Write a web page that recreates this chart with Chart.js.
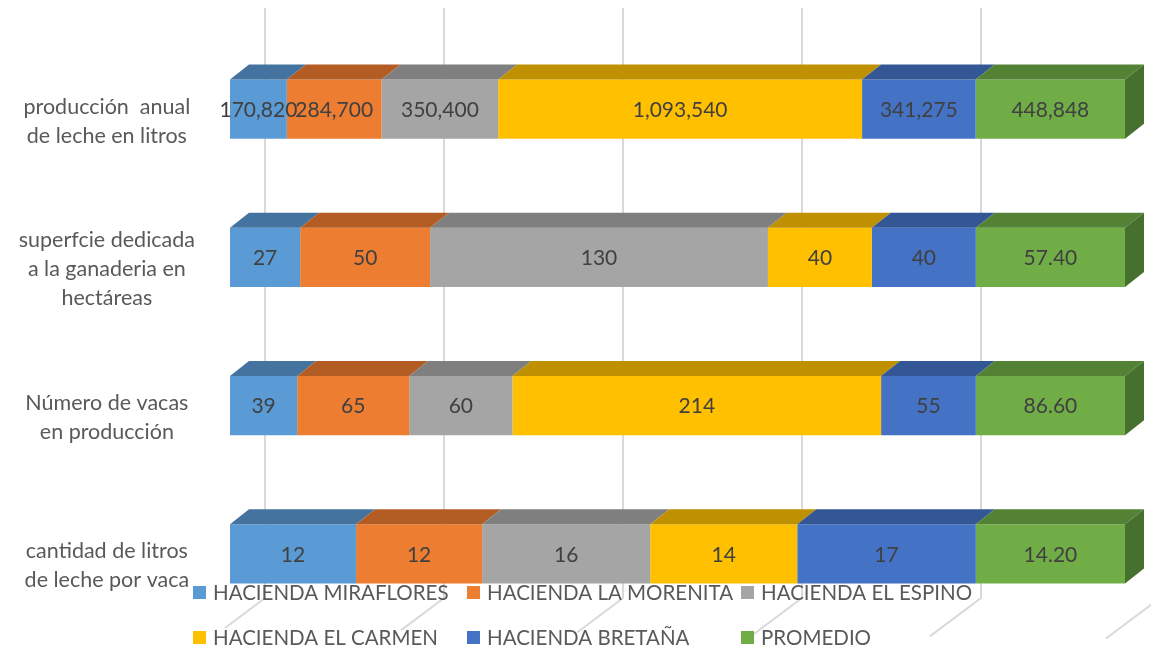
<!DOCTYPE html>
<html>
<head>
<meta charset="utf-8">
<script src="https://cdn.jsdelivr.net/npm/chart.js@4.4.0/dist/chart.umd.min.js"></script>
<style>
  html, body { margin: 0; background: #fff; }
  #wrap { width: 1151px; height: 650px; }
</style>
</head>
<body>
<div id="wrap"><canvas id="chart" width="1151" height="650"></canvas></div>
<script>
// categories (top to bottom) and series values
const categories = [
  ['producción  anual', 'de leche en litros'],
  ['superfcie dedicada', 'a la ganaderia en', 'hectáreas'],
  ['Número de vacas', 'en producción'],
  ['cantidad de litros', 'de leche por vaca']
];
const seriesNames = ['HACIENDA MIRAFLORES', 'HACIENDA LA MORENITA', 'HACIENDA EL ESPINO',
                     'HACIENDA EL CARMEN', 'HACIENDA BRETAÑA', 'PROMEDIO'];
const miraflores = [170820, 27, 39, 12];
const laMorenita = [284700, 50, 65, 12];
const elEspino   = [350400, 130, 60, 16];
const elCarmen   = [1093540, 40, 214, 14];
const bretana    = [341275, 40, 55, 17];
const promedio   = [448848, 57.4, 86.6, 14.2];
const gridTicks  = [0, 20, 40, 60, 80, 100];   // percent gridlines on the back wall

// Office palette: front faces / darker top faces
const FRONT = ['#5B9BD5', '#ED7D31', '#A5A5A5', '#FFC000', '#4472C4', '#70AD47'];
const TOP   = ['#44739F', '#B35D24', '#7F7F7F', '#BF9000', '#335694', '#548235'];
const SIDE  = '#46702D';
const FONT  = 'Lato, "Open Sans", sans-serif';

const allSeries = [miraflores, laMorenita, elEspino, elCarmen, bretana, promedio];
// 100% stacked: each category normalised to its row total
const totals = categories.map((_, i) => allSeries.reduce((s, arr) => s + arr[i], 0));

function fmt(v, si){
  if (v >= 1000) return v.toLocaleString('en-US', { maximumFractionDigits: 0 });
  if (seriesNames[si] === 'PROMEDIO') return v.toFixed(2);
  return String(v);
}

const DX = 19, DY = 15;      // bar depth
const WALL = 35;             // back wall offset

const threeD = {
  id: 'threeD',
  beforeDatasetsDraw(chart){
    const ctx = chart.ctx, xs = chart.scales.x;
    ctx.save();
    ctx.strokeStyle = '#D9D9D9';
    ctx.lineWidth = 2;
    gridTicks.forEach(t => {
      const x = xs.getPixelForValue(t) + WALL;
      const fd = 40 + t * 0.14;  // floor line length grows to the right (perspective)
      ctx.beginPath();
      ctx.moveTo(x, 8);
      ctx.lineTo(x, 598);
      ctx.lineTo(x - fd, 598 + fd * 0.75);
      ctx.stroke();
    });
    ctx.restore();
  },
  afterDatasetsDraw(chart){
    const ctx = chart.ctx;
    const n = chart.data.datasets.length;
    ctx.save();
    chart.data.datasets.forEach((ds, si) => {
      const meta = chart.getDatasetMeta(si);
      meta.data.forEach(bar => {
        const x0 = bar.base, x1 = bar.x, top = bar.y - bar.height / 2, bot = bar.y + bar.height / 2;
        ctx.fillStyle = TOP[si];
        ctx.beginPath();
        ctx.moveTo(x0, top); ctx.lineTo(x1, top);
        ctx.lineTo(x1 + DX, top - DY); ctx.lineTo(x0 + DX, top - DY);
        ctx.closePath(); ctx.fill();
        if (si === n - 1) {
          ctx.fillStyle = SIDE;
          ctx.beginPath();
          ctx.moveTo(x1, top); ctx.lineTo(x1 + DX, top - DY);
          ctx.lineTo(x1 + DX, bot - DY); ctx.lineTo(x1, bot);
          ctx.closePath(); ctx.fill();
        }
      });
    });
    // data labels (raw values) in the middle of each front face
    ctx.font = '21px ' + FONT;
    ctx.fillStyle = '#404040';
    ctx.textAlign = 'center';
    ctx.textBaseline = 'middle';
    chart.data.datasets.forEach((ds, si) => {
      chart.getDatasetMeta(si).data.forEach((bar, i) => {
        ctx.fillText(fmt(allSeries[si][i], si), (bar.base + bar.x) / 2, bar.y + 1);
      });
    });
    ctx.restore();
  },
  afterDraw(chart){
    // legend laid out in a 3-column grid like the original
    const ctx = chart.ctx;
    ctx.save();
    ctx.font = '20.5px ' + FONT;
    ctx.textAlign = 'left';
    ctx.textBaseline = 'middle';
    seriesNames.forEach((name, i) => {
      const x = 193 + (i % 3) * 274;
      const y = 592 + Math.floor(i / 3) * 45;
      ctx.fillStyle = FRONT[i];
      ctx.fillRect(x, y - 6, 13, 13);
      ctx.fillStyle = '#595959';
      ctx.fillText(name, x + 20, y + 1);
    });
    ctx.restore();
  }
};

function build(){
  new Chart(document.getElementById('chart'), {
    type: 'bar',
    data: {
      labels: categories,
      datasets: allSeries.map((arr, si) => ({
        label: seriesNames[si],
        data: arr.map((v, i) => v / totals[i] * 100),
        backgroundColor: FRONT[si],
        borderWidth: 0,
        barPercentage: 1,
        categoryPercentage: 0.4
      }))
    },
    options: {
      indexAxis: 'y',
      responsive: false,
      animation: false,
      layout: { padding: { top: 35, bottom: 22, right: 26, left: 0 } },
      plugins: { legend: { display: false }, tooltip: { enabled: false } },
      scales: {
        x: { stacked: true, min: 0, max: 100, display: false },
        y: {
          stacked: true,
          grid: { display: false, drawTicks: false },
          border: { display: false },
          afterFit: s => { s.width = 230; s.paddingTop = 0; s.paddingBottom = 0; },
          ticks: {
            crossAlign: 'center',
            padding: 35,
            labelOffset: 12,
            color: '#595959',
            font: { family: FONT, size: 21.5, lineHeight: 1.35 }
          }
        }
      }
    },
    plugins: [threeD]
  });
}

if (document.fonts && document.fonts.load) {
  document.fonts.load('19px Lato').then(build, build);
} else build();
</script>
</body>
</html>
